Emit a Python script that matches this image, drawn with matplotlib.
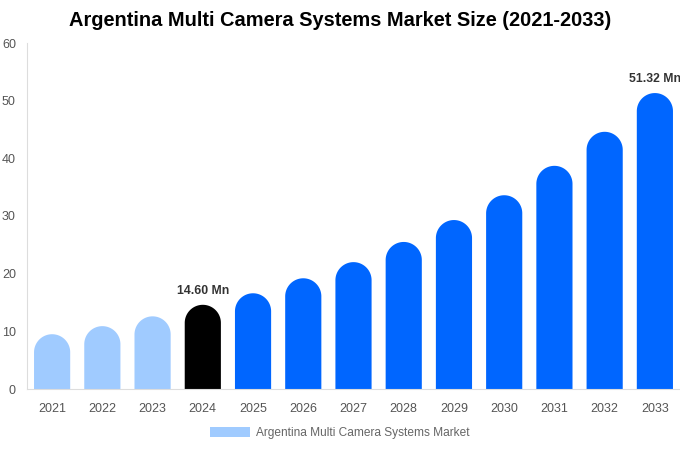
import matplotlib
matplotlib.use("Agg")
import numpy as np
import matplotlib.pyplot as plt
from matplotlib.patches import Polygon, Patch

plt.rcParams['font.family'] = ['Liberation Sans', 'DejaVu Sans']

years = ["2021", "2022", "2023", "2024", "2025", "2026", "2027", "2028", "2029", "2030", "2031", "2032", "2033"]
values = [9.5, 10.9, 12.6, 14.60, 16.6, 19.2, 22.0, 25.5, 29.3, 33.6, 38.7, 44.6, 51.32]
colors = ["#A0CBFF"] * 3 + ["#000000"] + ["#0066FF"] * 9
labels = {3: "14.60 Mn", 12: "51.32 Mn"}
legend_label = "Argentina Multi Camera Systems Market"
title = "Argentina Multi Camera Systems Market Size (2021-2033)"
yticks = [0, 10, 20, 30, 40, 50, 60]

fig = plt.figure(figsize=(6.8, 4.5), dpi=100)
ax_w_px = 653
ax = fig.add_axes([27/680, 61/450, ax_w_px/680, 346/450])
ax.set_xlim(-0.5, len(years) - 0.5)
ax.set_ylim(0, 60)

bw = 0.72
ppx = ax_w_px / len(years)
ppy = 346 / 60
r_y = (bw / 2) * ppx / ppy
t = np.linspace(np.pi, 0, 60)

for i, (v, c) in enumerate(zip(values, colors)):
    h = max(v - r_y, 0)
    xs = np.concatenate([[i - bw / 2], i + (bw / 2) * np.cos(t), [i + bw / 2]])
    ys = np.concatenate([[0], h + r_y * np.sin(t), [0]])
    ax.add_patch(Polygon(np.column_stack([xs, ys]), closed=True,
                         facecolor=c, edgecolor='none'))
    if i in labels:
        ax.text(i, v + 1.4, labels[i], ha='center', va='bottom', fontsize=8.8,
                fontweight='bold', color='#333333')

ax.set_xticks(range(len(years)))
ax.set_xticklabels(years)
ax.set_yticks(yticks)
ax.tick_params(axis='both', length=0, labelsize=9, labelcolor='#555555')
ax.tick_params(axis='x', pad=10)
ax.tick_params(axis='y', pad=8)
for s in ['top', 'right']:
    ax.spines[s].set_visible(False)
ax.spines['left'].set_color('#DDDDDD')
ax.spines['bottom'].set_color('#DDDDDD')

fig.text(0.5, 1 - 21/450, title, ha='center', va='center', fontsize=14.4,
         fontweight='bold', color='#000000')

leg = fig.legend(handles=[Patch(facecolor='#A0CBFF', edgecolor='none', label=legend_label)],
                 loc='center', bbox_to_anchor=(0.5, 1 - 433/450), frameon=False,
                 fontsize=8.6, handlelength=3.3, handleheight=1.0, handletextpad=0.5)
for t_ in leg.get_texts():
    t_.set_color('#666666')

fig.savefig("out.png", dpi=100)
